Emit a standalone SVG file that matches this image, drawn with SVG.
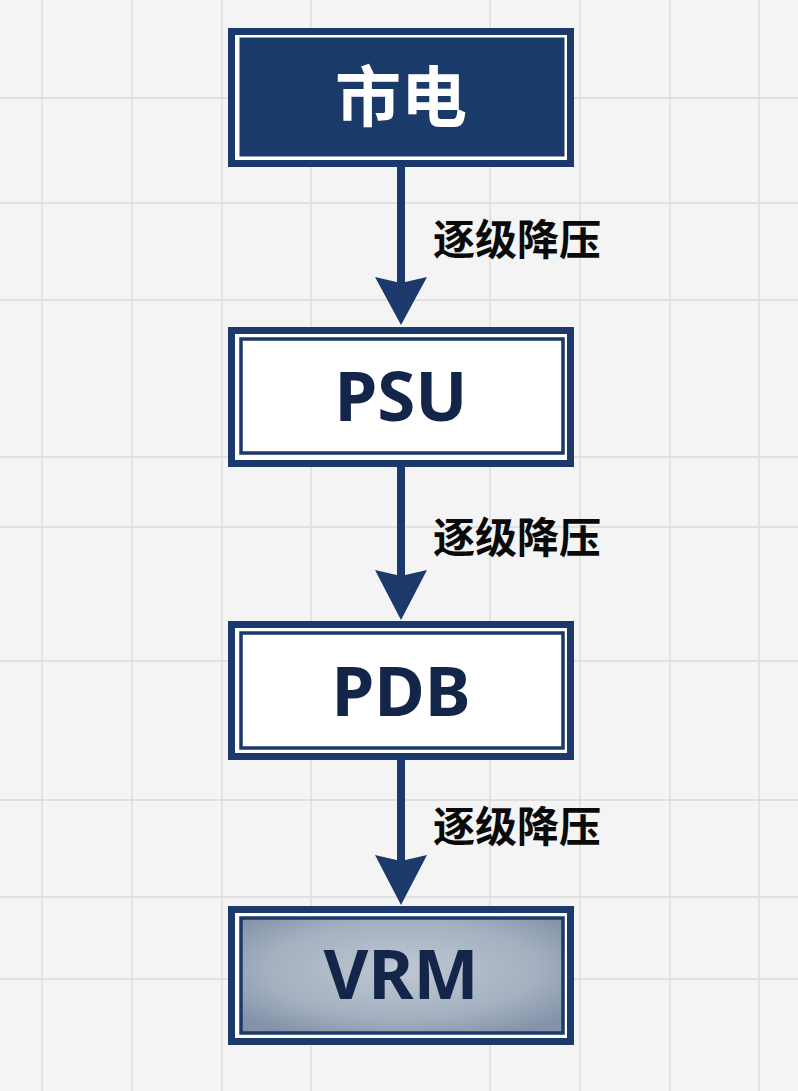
<svg xmlns="http://www.w3.org/2000/svg" width="798" height="1091" viewBox="0 0 798 1091">
<style>
.grid line{stroke:#dadada;stroke-width:1.3}
.outer{fill:#ffffff;stroke:#1b3a6b;stroke-width:7}
.inner{fill:#ffffff;stroke:#1b3a6b;stroke-width:3.5}
.title{font-family:"Noto Sans","Noto Sans CJK SC",sans-serif;font-weight:700;font-size:69px;fill:#13264a;text-anchor:middle}
.label{font-family:"Noto Sans CJK SC",sans-serif;font-weight:700;font-size:42px;fill:#0a0a0a}
.shaft{stroke:#1b3a6b;stroke-width:8}
.head{fill:#1b3a6b}
</style>
<defs>
<radialGradient id="vrmGrad" cx="0.5" cy="0.45" r="0.65">
<stop offset="0" stop-color="#bfc8d3"/>
<stop offset="0.65" stop-color="#a4b0c0"/>
<stop offset="1" stop-color="#8392a8"/>
</radialGradient>
</defs>
<rect x="0" y="0" width="798" height="1091" fill="#f4f4f4"/>
<g class="grid">
<line x1="42" y1="0" x2="42" y2="1091"/>
<line x1="132" y1="0" x2="132" y2="1091"/>
<line x1="222" y1="0" x2="222" y2="1091"/>
<line x1="311" y1="0" x2="311" y2="1091"/>
<line x1="490" y1="0" x2="490" y2="1091"/>
<line x1="580" y1="0" x2="580" y2="1091"/>
<line x1="670" y1="0" x2="670" y2="1091"/>
<line x1="759" y1="0" x2="759" y2="1091"/>
<line x1="0" y1="98" x2="798" y2="98"/>
<line x1="0" y1="203" x2="798" y2="203"/>
<line x1="0" y1="300" x2="798" y2="300"/>
<line x1="0" y1="457" x2="798" y2="457"/>
<line x1="0" y1="527" x2="798" y2="527"/>
<line x1="0" y1="661" x2="798" y2="661"/>
<line x1="0" y1="800" x2="798" y2="800"/>
<line x1="0" y1="897" x2="798" y2="897"/>
<line x1="0" y1="979" x2="798" y2="979"/>
</g>
<g id="connectors">
<line class="shaft" x1="401" y1="167" x2="401" y2="285"/>
<path class="head" d="M375,277 L401,283 L427,277 L401,325 Z"/>
<line class="shaft" x1="401" y1="467" x2="401" y2="578"/>
<path class="head" d="M375,570 L401,576 L427,570 L401,620 Z"/>
<line class="shaft" x1="401" y1="760" x2="401" y2="863"/>
<path class="head" d="M375,855 L401,861 L427,855 L401,905 Z"/>
<text class="label" x="433" y="255">逐级降压</text>
<text class="label" x="433" y="553">逐级降压</text>
<text class="label" x="433" y="842">逐级降压</text>
</g>
<g id="node-mains">
<rect class="outer" x="231.5" y="31.5" width="339" height="132"/>
<rect x="241" y="39" width="322" height="116" fill="#1a3a6a" stroke="#1b3a6b" stroke-width="3"/>
<text x="401" y="121" font-family="'Noto Sans CJK SC',sans-serif" font-weight="700" font-size="66" fill="#ffffff" text-anchor="middle">市电</text>
</g>
<g id="node-psu">
<rect class="outer" x="231.5" y="330.5" width="339" height="133"/>
<rect class="inner" x="241" y="339" width="322" height="114"/>
<text class="title" x="401" y="421">PSU</text>
</g>
<g id="node-pdb">
<rect class="outer" x="231.5" y="624.5" width="339" height="132"/>
<rect class="inner" x="241" y="633" width="322" height="115"/>
<text class="title" x="401" y="716">PDB</text>
</g>
<g id="node-vrm">
<rect class="outer" x="231.5" y="909.5" width="339" height="132"/>
<rect x="241" y="918" width="322" height="115" fill="url(#vrmGrad)" stroke="#1b3a6b" stroke-width="3.5"/>
<text class="title" x="401" y="999">VRM</text>
</g>
</svg>
